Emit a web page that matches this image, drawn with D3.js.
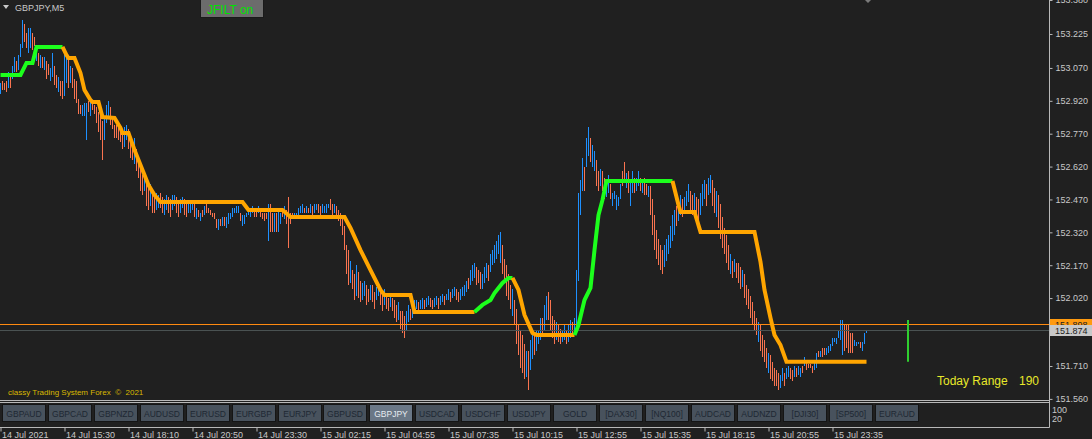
<!DOCTYPE html>
<html><head><meta charset="utf-8">
<script src="https://cdn.jsdelivr.net/npm/d3@7"></script>
<style>
html,body{margin:0;padding:0;background:#202020;overflow:hidden}
svg{display:block}
text{font-family:"Liberation Sans",Arial,sans-serif}
</style></head><body>
<svg id="c" width="1092" height="439"></svg>
<script>
// ---- DATA (GBPJPY M5 bars: high / low, u = up bar, d = down bar) ----
const highs = [
153.00,153.01,153.00,153.01,153.05,153.04,153.08,153.12,153.10,153.13,
153.18,153.29,153.27,153.23,153.25,153.25,153.23,153.21,153.16,153.14,
153.13,153.12,153.12,153.10,153.09,153.07,153.14,153.08,153.04,153.03,
153.01,153.01,153.14,153.12,153.11,153.08,153.07,153.02,153.01,152.93,
152.90,152.90,152.91,152.91,152.92,152.92,152.92,152.90,152.89,152.87,
152.86,152.83,152.85,152.90,152.92,152.89,152.85,152.81,152.81,152.82,
152.80,152.78,152.80,152.81,152.79,152.76,152.74,152.75,152.70,152.67,
152.63,152.58,152.60,152.56,152.52,152.54,152.51,152.49,152.50,152.49,
152.50,152.48,152.47,152.49,152.48,152.47,152.49,152.49,152.48,152.46,
152.47,152.48,152.47,152.45,152.45,152.45,152.45,152.45,152.43,152.42,
152.41,152.42,152.44,152.45,152.43,152.42,152.41,152.41,152.38,152.38,
152.38,152.39,152.39,152.39,152.41,152.41,152.43,152.43,152.44,152.44,
152.41,152.40,152.40,152.41,152.43,152.43,152.44,152.43,152.42,152.44,
152.43,152.41,152.41,152.41,152.45,152.45,152.41,152.41,152.41,152.42,
152.41,152.42,152.44,152.42,152.48,152.41,152.41,152.41,152.41,152.43,
152.44,152.45,152.43,152.44,152.43,152.45,152.44,152.45,152.45,152.45,
152.44,152.45,152.44,152.45,152.45,152.47,152.45,152.45,152.44,152.42,
152.41,152.40,152.35,152.26,152.24,152.19,152.15,152.13,152.17,152.14,
152.10,152.09,152.10,152.08,152.06,152.08,152.08,152.05,152.07,152.08,
152.07,152.05,152.06,152.04,152.02,152.03,152.02,152.01,151.99,152.00,
151.96,151.96,151.94,151.96,151.99,151.97,151.99,152.01,152.01,152.00,
152.01,152.02,152.01,152.02,152.03,152.02,152.01,152.02,152.03,152.02,
152.03,152.04,152.03,152.04,152.06,152.05,152.06,152.07,152.06,152.05,
152.06,152.07,152.08,152.10,152.11,152.15,152.17,152.18,152.16,152.15,
152.14,152.13,152.16,152.18,152.17,152.22,152.24,152.26,152.28,152.31,
152.32,152.26,152.20,152.17,152.13,152.08,152.06,152.01,151.97,151.90,
151.87,151.85,151.81,151.78,151.78,151.83,151.85,151.85,151.87,151.87,
151.93,151.93,151.99,152.03,152.05,152.01,151.94,151.92,151.91,151.90,
151.88,151.87,151.90,151.87,151.90,151.92,151.91,151.93,152.15,152.50,
152.56,152.66,152.62,152.75,152.80,152.75,152.72,152.69,152.65,152.60,
152.61,152.60,152.57,152.54,152.58,152.54,152.50,152.51,152.49,152.48,
152.54,152.60,152.64,152.59,152.60,152.56,152.60,152.57,152.57,152.60,
152.57,152.55,152.57,152.54,152.53,152.53,152.47,152.40,152.33,152.29,
152.26,152.24,152.26,152.29,152.31,152.35,152.40,152.42,152.44,152.47,
152.49,152.47,152.48,152.51,152.54,152.51,152.49,152.50,152.48,152.47,
152.50,152.54,152.56,152.54,152.57,152.58,152.56,152.52,152.51,152.49,
152.45,152.39,152.34,152.31,152.26,152.22,152.19,152.20,152.18,152.18,
152.16,152.15,152.13,152.08,152.06,152.03,152.00,151.96,151.93,151.91,
151.90,151.85,151.83,151.79,151.77,151.76,151.73,151.70,151.69,151.68,
151.67,151.70,151.68,151.70,151.71,151.70,151.69,151.71,151.70,151.71,
151.70,151.71,151.75,151.73,151.72,151.72,151.71,151.73,151.77,151.78,
151.78,151.79,151.79,151.79,151.80,151.81,151.84,151.84,151.84,151.87,
151.92,151.92,151.90,151.90,151.90,151.86,151.86,151.83,151.82,151.82,
151.82,151.82,151.86,151.87
];
const lows = [
152.95,152.97,152.97,152.96,152.98,152.98,153.02,153.05,153.05,153.06,
153.12,153.16,153.19,153.16,153.14,153.16,153.15,153.17,153.10,153.08,
153.07,153.07,153.06,153.02,153.04,153.01,153.03,152.99,152.98,152.96,
152.94,152.93,152.94,153.00,152.98,153.00,152.98,152.93,152.91,152.86,
152.86,152.85,152.85,152.74,152.87,152.85,152.88,152.86,152.82,152.78,
152.74,152.65,152.74,152.82,152.84,152.81,152.79,152.75,152.75,152.74,
152.73,152.70,152.71,152.74,152.70,152.66,152.65,152.63,152.60,152.57,
152.51,152.49,152.51,152.44,152.42,152.44,152.41,152.41,152.42,152.43,
152.43,152.41,152.40,152.42,152.41,152.39,152.42,152.44,152.41,152.39,
152.41,152.43,152.40,152.39,152.41,152.41,152.42,152.39,152.38,152.39,
152.37,152.39,152.40,152.41,152.41,152.40,152.39,152.38,152.34,152.33,
152.35,152.35,152.35,152.34,152.36,152.38,152.39,152.41,152.41,152.41,
152.37,152.35,152.36,152.39,152.40,152.39,152.41,152.39,152.39,152.41,
152.39,152.38,152.37,152.38,152.28,152.32,152.32,152.32,152.32,152.32,
152.36,152.39,152.38,152.36,152.25,152.36,152.39,152.39,152.39,152.40,
152.41,152.41,152.41,152.41,152.41,152.41,152.40,152.41,152.42,152.41,
152.40,152.41,152.41,152.41,152.43,152.42,152.40,152.41,152.40,152.37,
152.35,152.31,152.24,152.13,152.08,152.09,152.06,152.01,152.03,152.02,
152.00,152.01,152.03,151.99,152.00,152.01,152.00,151.97,152.01,152.03,
151.99,151.96,151.99,151.97,151.96,151.98,151.96,151.93,151.91,151.92,
151.88,151.86,151.84,151.87,151.91,151.92,151.93,151.96,151.97,151.96,
151.97,151.97,151.97,151.98,151.99,151.98,151.97,151.98,151.99,151.97,
151.99,152.00,151.99,152.01,152.01,152.00,152.02,152.03,152.01,152.00,
152.01,152.03,152.03,152.05,152.06,152.08,152.10,152.11,152.08,152.09,
152.06,152.06,152.09,152.11,152.10,152.14,152.17,152.18,152.20,152.22,
152.18,152.13,152.09,152.03,152.01,151.97,151.94,151.90,151.81,151.76,
151.70,151.68,151.65,151.66,151.60,151.69,151.74,151.76,151.78,151.81,
151.83,151.85,151.87,151.92,151.92,151.87,151.84,151.81,151.83,151.82,
151.81,151.82,151.83,151.81,151.82,151.84,151.85,151.86,151.87,152.10,
152.40,152.51,152.51,152.62,152.67,152.64,152.62,152.60,152.53,152.51,
152.53,152.51,152.47,152.48,152.50,152.47,152.44,152.47,152.42,152.44,
152.47,152.53,152.55,152.52,152.50,152.44,152.50,152.50,152.51,152.53,
152.51,152.50,152.49,152.49,152.48,152.40,152.31,152.24,152.20,152.17,
152.15,152.13,152.16,152.19,152.22,152.25,152.28,152.31,152.35,152.37,
152.40,152.39,152.41,152.44,152.46,152.42,152.40,152.42,152.40,152.35,
152.40,152.44,152.47,152.44,152.49,152.50,152.44,152.41,152.39,152.34,
152.29,152.25,152.22,152.18,152.15,152.13,152.11,152.14,152.11,152.09,
152.06,152.07,152.02,151.99,151.97,151.93,151.90,151.87,151.85,151.82,
151.78,151.75,151.73,151.70,151.68,151.65,151.64,151.62,151.62,151.60,
151.61,151.64,151.62,151.65,151.66,151.65,151.64,151.66,151.66,151.67,
151.66,151.68,151.71,151.69,151.70,151.70,151.68,151.69,151.70,151.75,
151.75,151.75,151.76,151.76,151.77,151.78,151.80,151.82,151.81,151.84,
151.83,151.76,151.78,151.79,151.77,151.77,151.77,151.80,151.80,151.81,
151.79,151.78,151.81,151.86
];
const barDirs =
  "uddduduudu" + "uudduuddud" + "ududduuddu" + "dduududddd" + "duuududddd" +
  "dduuuddddd" + "dduudddudd" + "ddudduddUU".toLowerCase() + "dduudduudd" + "uudduuudud" +
  "ududdddddu" + "duduuuuuuu" + "duuuuuuddu" + "dddduddudu" + "ududddduuu" +
  "uudududuud" + "duuuuddudd" + "ddddduddud" + "duuddudduu" + "dduddudddu" +
  "ddduuduuud" + "uuduudduud" + "uuduuduudd" + "uuuuduuudd" + "duuuduuuuu" +
  "uddddduddd" + "ddduduuduu" + "uduuddddud" + "duuduuduuu" + "uuduuduudd" +
  "udduduuuuu".slice(0,0) + "udduuduuuu" + "udduduuduu" + "dudduddddd" + "dduuuuuudu" +
  "uduuuddudd" + "uuuduuddud" + "dddddududd" + "dudddddddu" + "dddduddddd" +
  "uuduuddudu" + "ududddduud" + "udduuuuuuu" + "uuddddduuu" + "duuu";

// JFILT line vertices (bar index, price) and trend switches (vertex index -> colour)
const jfiltBars = [0,10,13,16,18,31,33,34,37,40,42,45,46,49,51,57,60,61,64,67,71,74,77,80,121,124,141,145,172,175,180,185,190,192,205,207,237,
  241,245,247,251,254,256,259,262,266,268,287,289,292,295,297,299,301,303,336,339,340,347,350,377,380,382,385,387,390,393,433];
const jfiltVals = [153.038,153.038,153.093,153.093,153.166,153.166,153.129,153.115,153.115,153.047,152.969,152.924,152.915,152.915,152.846,152.842,152.796,152.773,152.773,152.696,152.604,152.536,152.490,152.458,152.458,152.422,152.422,152.390,152.390,152.340,152.239,152.148,152.057,152.034,152.034,151.957,151.957,
  151.989,152.011,152.043,152.089,152.112,152.112,152.057,151.943,151.861,151.852,151.852,151.897,152.011,152.066,152.239,152.399,152.468,152.554,152.554,152.445,152.413,152.413,152.322,152.322,152.185,152.057,151.929,151.852,151.806,151.729,151.729];
const jfiltSwitchAt = [0,5,36,42,47,55];
const jfiltSwitchTrend = ["up","down","up","down","up","down"];

const timeTickBars = [0,32,64,96,128,160,192,224,256,288,320,352,384,416];
const timeTickLabels = ["14 Jul 2021","14 Jul 15:30","14 Jul 18:10","14 Jul 20:50","14 Jul 23:30","15 Jul 02:15","15 Jul 04:55","15 Jul 07:35","15 Jul 10:15","15 Jul 12:55","15 Jul 15:35","15 Jul 18:15","15 Jul 20:55","15 Jul 23:35"];
const priceTicks = [153.380,153.225,153.070,152.920,152.770,152.620,152.470,152.320,152.170,152.020,151.710,151.560];
const levelPrice = 151.898;
const bidPrice = 151.874;
const todayRangeBar = 453.5;
const todayHigh = 151.920;
const todayLow = 151.729;
const todayRangePts = 190;
const symbols = ["GBPAUD","GBPCAD","GBPNZD","AUDUSD","EURUSD","EURGBP","EURJPY","GBPUSD","GBPJPY","USDCAD","USDCHF","USDJPY","GOLD","[DAX30]","[NQ100]","AUDCAD","AUDNZD","[DJI30]","[SP500]","EURAUD"];
const activeSymbol = "GBPJPY";
const subLevels = ["100","20"];

// ---- DRAW ----
const svg = d3.select("#c");
const W = 1092, H = 439, axisX = 1049, mainBottom = 400;
svg.append("rect").attr("width",W).attr("height",H).attr("fill","#202020");

const x = d3.scaleLinear().domain([0,524]).range([0,1048]);
const y = d3.scaleLinear().domain([151.555,153.380]).range([mainBottom,0]);

const plot = svg.append("g");
// bars
plot.selectAll("rect.bar").data(highs).join("rect")
  .attr("class","bar")
  .attr("x",(d,i)=>Math.round(x(i)))
  .attr("width",1)
  .attr("y",(d,i)=>Math.round(y(d)))
  .attr("height",(d,i)=>Math.max(1,Math.round(y(lows[i]))-Math.round(y(d))))
  .attr("fill",(d,i)=>barDirs[i]==="u"?"#1e90ff":"#fa7450");

// horizontal level lines
const lvLineY = Math.floor(y(levelPrice))+0.5;
const bdLineY = Math.floor(y(bidPrice))+0.5;
plot.append("line").attr("x1",0).attr("x2",axisX).attr("y1",lvLineY).attr("y2",lvLineY)
  .attr("stroke","#ff8a10").attr("stroke-width",1).attr("shape-rendering","crispEdges");
plot.append("line").attr("x1",0).attr("x2",axisX).attr("y1",bdLineY).attr("y2",bdLineY)
  .attr("stroke","#4a5252").attr("stroke-width",1).attr("shape-rendering","crispEdges");

// JFILT line
const trendOf = k => { let t = jfiltSwitchTrend[0]; jfiltSwitchAt.forEach((s,j)=>{ if (k>=s) t = jfiltSwitchTrend[j]; }); return t; };
const line = d3.line().x(d=>x(d[0])+0.5).y(d=>y(d[1]));
jfiltSwitchAt.forEach((s,j)=>{
  const e = j+1<jfiltSwitchAt.length ? jfiltSwitchAt[j+1] : jfiltBars.length-1;
  const pts = [];
  for (let k=s;k<=e;k++) pts.push([jfiltBars[k],jfiltVals[k]]);
  plot.append("path").attr("d",line(pts)).attr("fill","none")
    .attr("stroke",trendOf(s)==="up"?"#1cff1c":"#ffa500").attr("stroke-width",4)
    .attr("stroke-linejoin","miter").attr("stroke-linecap","butt");
});

// today range marker
plot.append("line").attr("x1",Math.round(x(todayRangeBar))+1).attr("x2",Math.round(x(todayRangeBar))+1)
  .attr("y1",y(todayHigh)).attr("y2",y(todayLow)).attr("stroke","#2fce2f").attr("stroke-width",2);

// top-left label
svg.append("path").attr("d","M3,5 L9,5 L6,9 Z").attr("fill","#c8c8c8");
svg.append("text").attr("x",15).attr("y",10.5).attr("font-size",9).attr("fill","#c8c8c8").text("GBPJPY,M5");
// JFILT button
svg.append("rect").attr("x",200.5).attr("y",-0.5).attr("width",63).attr("height",18).attr("fill","#6c6c6c")
  .attr("stroke","#1a1a1a").attr("stroke-width",1);
svg.append("text").attr("x",207).attr("y",13.5).attr("font-size",12).attr("fill","#00e400").text("JFILT on");
// chart shift marker
svg.append("path").attr("d","M865,0 L871,0 L868,3 Z").attr("fill","#7a7a7a");

// copyright & today range
svg.append("text").attr("x",8).attr("y",394.5).attr("font-size",8).attr("fill","#d8b800").style("white-space","pre").text("classy Trading System Forex  \u00a9  2021");
svg.append("text").attr("x",937).attr("y",384.5).attr("font-size",12).attr("fill","#e8e82a").text("Today Range");
svg.append("text").attr("x",1019).attr("y",384.5).attr("font-size",12).attr("fill","#e8e82a").text(String(todayRangePts));

// frame lines
const fr = svg.append("g").attr("stroke","#b8b8b8").attr("stroke-width",1);
fr.append("line").attr("x1",0).attr("x2",axisX).attr("y1",400.5).attr("y2",400.5);
fr.append("line").attr("x1",0).attr("x2",axisX).attr("y1",402.5).attr("y2",402.5);
fr.append("line").attr("x1",0).attr("x2",axisX+0.5).attr("y1",427.5).attr("y2",427.5);
fr.append("line").attr("x1",axisX+0.5).attr("x2",axisX+0.5).attr("y1",0).attr("y2",427.5);

// price axis
const yAxis = d3.axisRight(y).tickValues(priceTicks).tickFormat(d3.format(".3f")).tickSize(3).tickPadding(3);
const ga = svg.append("g").attr("transform",`translate(${axisX+0.5},0)`).call(yAxis);
ga.select(".domain").remove();
ga.selectAll("line").attr("stroke","#b8b8b8");
ga.selectAll("text").attr("fill","#c8c8c8").attr("font-size",9).attr("font-family","Liberation Sans, Arial, sans-serif");

// price labels
const lvY = Math.round(y(levelPrice));
svg.append("rect").attr("x",axisX+1).attr("y",lvY-6).attr("width",W-axisX-1).attr("height",9).attr("fill","#ff9a10");
svg.append("text").attr("x",axisX+6).attr("y",lvY+3).attr("font-size",9).attr("fill","#202020").text(levelPrice.toFixed(3));
const bdY = Math.round(y(bidPrice));
svg.append("rect").attr("x",axisX+1).attr("y",bdY-5).attr("width",W-axisX-1).attr("height",11).attr("fill","#c8c8c8");
svg.append("text").attr("x",axisX+6).attr("y",bdY+3.5).attr("font-size",9).attr("fill","#202020").text(bidPrice.toFixed(3));

// subwindow level labels
svg.append("text").attr("x",axisX+3).attr("y",413).attr("font-size",9).attr("fill","#c8c8c8").text(subLevels[0]);
svg.append("text").attr("x",axisX+3).attr("y",422).attr("font-size",9).attr("fill","#c8c8c8").text(subLevels[1]);

// symbol buttons
const bx = d3.scaleBand().domain(symbols).range([1.8,918.5]).paddingInner(0.052);
const bg = svg.append("g");
const btn = bg.selectAll("g").data(symbols).join("g").attr("transform",d=>`translate(${Math.round(bx(d))},404)`);
btn.append("rect").attr("x",0.5).attr("y",0.5).attr("width",Math.round(bx.bandwidth())-1).attr("height",17)
  .attr("fill",d=>d===activeSymbol?"#6a7786":"#48525d").attr("stroke","#151515");
btn.append("text").attr("x",Math.round(bx.bandwidth())/2).attr("y",12.5).attr("text-anchor","middle").attr("font-size",8.5)
  .attr("fill",d=>d===activeSymbol?"#e6ebf0":"#1e2833").text(d=>d);

// time axis
const xAxis = d3.axisBottom(x).tickValues(timeTickBars).tickFormat((d,i)=>timeTickLabels[i]).tickSize(4).tickPadding(2);
const gx = svg.append("g").attr("transform","translate(0.5,427.5)").call(xAxis);
gx.select(".domain").remove();
gx.selectAll("line").attr("stroke","#b8b8b8");
gx.selectAll("text").attr("text-anchor","start").attr("x",1).attr("dy",0).attr("y",10.5)
  .attr("fill","#c8c8c8").attr("font-size",9).attr("font-family","Liberation Sans, Arial, sans-serif");
</script>
</body></html>
